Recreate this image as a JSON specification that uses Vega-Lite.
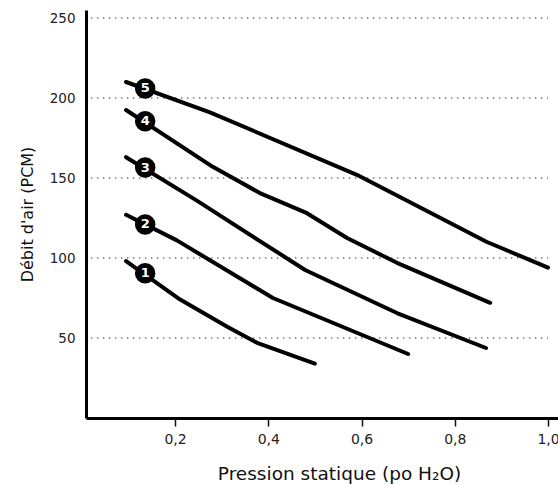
{
  "$schema": "https://vega.github.io/schema/vega-lite/v6.json",
  "width": 472,
  "height": 408,
  "autosize": "none",
  "padding": {"left": 86, "top": 10, "right": 0, "bottom": 67},
  "background": "white",
  "config": {
    "view": {"stroke": null},
    "font": "DejaVu Sans"
  },
  "datasets": {
    "curves": [
      {"courbe": 5, "p": 0.095, "q": 210},
      {"courbe": 5, "p": 0.275, "q": 191},
      {"courbe": 5, "p": 0.59, "q": 152},
      {"courbe": 5, "p": 0.869, "q": 110},
      {"courbe": 5, "p": 1.0, "q": 94},
      {"courbe": 4, "p": 0.095, "q": 192.5},
      {"courbe": 4, "p": 0.281, "q": 157},
      {"courbe": 4, "p": 0.382, "q": 140.6},
      {"courbe": 4, "p": 0.483, "q": 128},
      {"courbe": 4, "p": 0.569, "q": 112.5},
      {"courbe": 4, "p": 0.676, "q": 97},
      {"courbe": 4, "p": 0.876, "q": 72},
      {"courbe": 3, "p": 0.095, "q": 163},
      {"courbe": 3, "p": 0.246, "q": 136},
      {"courbe": 3, "p": 0.479, "q": 92.5},
      {"courbe": 3, "p": 0.676, "q": 65.6},
      {"courbe": 3, "p": 0.867, "q": 43.75},
      {"courbe": 2, "p": 0.095, "q": 127},
      {"courbe": 2, "p": 0.204, "q": 111},
      {"courbe": 2, "p": 0.41, "q": 75},
      {"courbe": 2, "p": 0.7, "q": 40},
      {"courbe": 1, "p": 0.095, "q": 98},
      {"courbe": 1, "p": 0.211, "q": 74},
      {"courbe": 1, "p": 0.312, "q": 57},
      {"courbe": 1, "p": 0.376, "q": 47},
      {"courbe": 1, "p": 0.5, "q": 34}
    ],
    "labels": [
      {"courbe": "5", "p": 0.136, "q": 206},
      {"courbe": "4", "p": 0.136, "q": 185.5},
      {"courbe": "3", "p": 0.136, "q": 156.5},
      {"courbe": "2", "p": 0.136, "q": 121},
      {"courbe": "1", "p": 0.136, "q": 90.5}
    ],
    "grid": [
      {"y": 50, "x1": 0.02, "x2": 1.0},
      {"y": 100, "x1": 0.02, "x2": 1.0},
      {"y": 150, "x1": 0.02, "x2": 1.0},
      {"y": 200, "x1": 0.02, "x2": 1.0},
      {"y": 250, "x1": 0.02, "x2": 1.0}
    ]
  },
  "layer": [
    {
      "data": {"name": "grid"},
      "mark": {"type": "rule", "strokeDash": [1.3, 4.7], "strokeWidth": 1.3, "color": "#666666"},
      "encoding": {
        "x": {"field": "x1", "type": "quantitative", "scale": {"domain": [0.0091, 1.0214], "nice": false, "zero": false},
          "axis": {
            "values": [0.2, 0.4, 0.6, 0.8, 1.0],
            "labelExpr": "replace(format(datum.value, '.1f'), '.', ',')",
            "title": "Pression statique (po H₂O)",
            "titleX": 253,
            "titleFontSize": 18.5,
            "titleFontWeight": "normal",
            "titleColor": "#111111",
            "titlePadding": 18,
            "labelFontSize": 14,
            "labelColor": "#222222",
            "labelPadding": 6,
            "tickColor": "#111111",
            "tickSize": 8,
            "tickWidth": 1.5,
            "domainColor": "#000000",
            "domainWidth": 3,
            "grid": false
          }
        },
        "x2": {"field": "x2"},
        "y": {"field": "y", "type": "quantitative", "scale": {"domain": [0, 255], "nice": false},
          "axis": {
            "values": [50, 100, 150, 200, 250],
            "title": "Débit d'air (PCM)",
            "titleFontSize": 16,
            "titleFontWeight": "normal",
            "titleColor": "#111111",
            "titlePadding": 14,
            "labelFontSize": 13.5,
            "labelColor": "#222222",
            "labelPadding": 11,
            "ticks": false,
            "domainColor": "#000000",
            "domainWidth": 3,
            "grid": false
          }
        }
      }
    },
    {
      "data": {"name": "curves"},
      "mark": {"type": "line", "color": "#000000", "strokeWidth": 4, "strokeCap": "round", "strokeJoin": "round"},
      "encoding": {
        "x": {"field": "p", "type": "quantitative"},
        "y": {"field": "q", "type": "quantitative"},
        "detail": {"field": "courbe", "type": "nominal"},
        "order": {"field": "p", "type": "quantitative"}
      }
    },
    {
      "data": {"name": "labels"},
      "mark": {"type": "point", "shape": "circle", "filled": true, "color": "#000000", "size": 420, "opacity": 1},
      "encoding": {
        "x": {"field": "p", "type": "quantitative"},
        "y": {"field": "q", "type": "quantitative"}
      }
    },
    {
      "data": {"name": "labels"},
      "mark": {"type": "text", "color": "#ffffff", "fontSize": 13, "fontWeight": "bold", "align": "center", "baseline": "middle"},
      "encoding": {
        "x": {"field": "p", "type": "quantitative"},
        "y": {"field": "q", "type": "quantitative"},
        "text": {"field": "courbe", "type": "nominal"}
      }
    }
  ]
}
